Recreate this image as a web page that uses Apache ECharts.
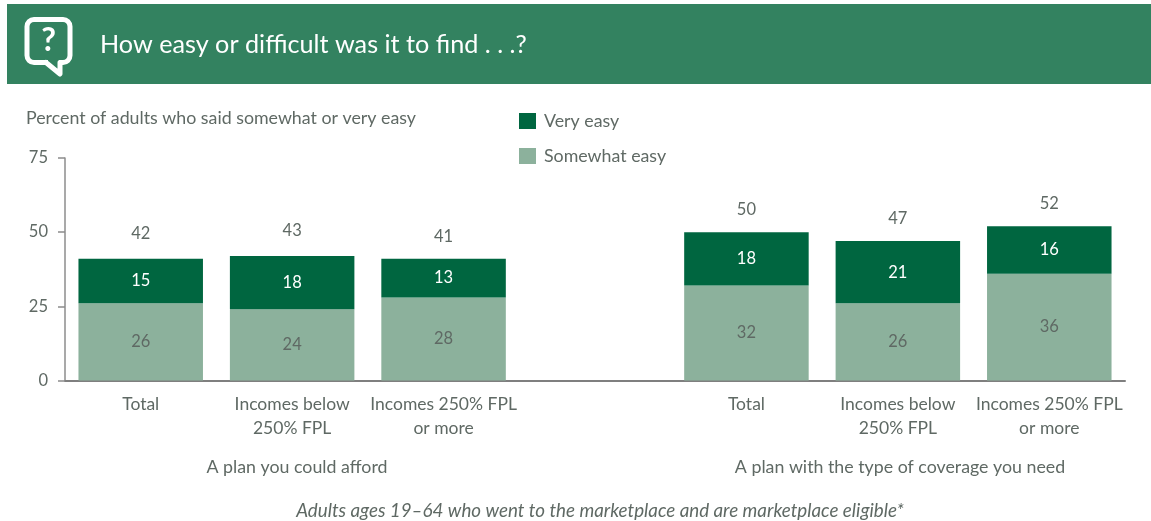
<!DOCTYPE html>
<html>
<head>
<meta charset="utf-8">
<style>
  html, body { margin: 0; padding: 0; background: #fff; }
  #chart { width: 1151px; height: 521px; }
</style>
<script src="https://cdn.jsdelivr.net/npm/echarts@6/dist/echarts.min.js"></script>
</head>
<body>
<div id="chart"></div>
<script>
// Survey answers by group; the empty middle slot separates the two question panels.
const categories = ['Total', 'Incomes below\n250% FPL', 'Incomes 250% FPL\nor more', '', 'Total', 'Incomes below\n250% FPL', 'Incomes 250% FPL\nor more'];
const somewhatEasy = [26, 24, 28, null, 32, 26, 36];
const veryEasy = [15, 18, 13, null, 18, 21, 16];
const totals = [42, 43, 41, null, 50, 47, 52];
const yTicks = [0, 25, 50, 75];

const FONT = 'Lato, "Open Sans", sans-serif';
const TEXT = '#5f6964';
const DARK = '#006640';
const LIGHT = '#8cb19c';
const BANNER = '#338260';

const chart = echarts.init(document.getElementById('chart'), null, { renderer: 'canvas' });

function note(text, x, y, align, extra) {
  return {
    type: 'text', x, y,
    style: Object.assign({ text, fill: TEXT, font: '17.8px ' + FONT, align, verticalAlign: 'middle' }, extra || {})
  };
}

chart.setOption({
  animation: false,
  backgroundColor: '#fff',
  textStyle: { fontFamily: FONT },
  grid: { left: 65, right: 26, top: 158, bottom: 140.5, containLabel: false },
  legend: {
    left: 514, top: 107, orient: 'vertical', itemWidth: 17, itemHeight: 16, itemGap: 17,
    data: ['Very easy', 'Somewhat easy'], selectedMode: false, icon: 'rect',
    textStyle: { color: TEXT, fontSize: 17.8, fontFamily: FONT, padding: [0, 0, 0, 3] }
  },
  xAxis: {
    type: 'category', data: categories,
    axisTick: { show: false },
    axisLine: { lineStyle: { color: '#7f7f7f', width: 2 } },
    axisLabel: { color: TEXT, fontSize: 17.5, fontFamily: FONT, lineHeight: 24, margin: 12, interval: 0 }
  },
  yAxis: {
    type: 'value', min: 0, max: 75, interval: 25,
    splitLine: { show: false },
    axisLine: { show: true, lineStyle: { color: '#8c8c8c', width: 1.5 } },
    axisTick: { show: true, length: 7, lineStyle: { color: '#8c8c8c', width: 1.5 } },
    axisLabel: {
      color: TEXT, fontSize: 16.5, fontFamily: FONT, margin: 17,
      formatter: v => yTicks.includes(v) ? String(v) : ''
    }
  },
  series: [
    {
      name: 'Somewhat easy', type: 'bar', stack: 'share', data: somewhatEasy, barWidth: 124.5,
      itemStyle: { color: LIGHT },
      label: { show: true, position: 'inside', color: TEXT, fontSize: 16.5, fontFamily: FONT }
    },
    {
      name: 'Very easy', type: 'bar', stack: 'share', data: veryEasy, barWidth: 124.5,
      itemStyle: { color: DARK },
      label: { show: true, position: 'inside', color: '#fff', fontSize: 16.5, fontFamily: FONT }
    },
    {
      name: 'Total', type: 'line', data: totals, connectNulls: false,
      showSymbol: true, symbolSize: 0, lineStyle: { opacity: 0 }, itemStyle: { opacity: 0 },
      label: { show: true, position: 'top', distance: 14, color: TEXT, fontSize: 16.5, fontFamily: FONT, opacity: 1 }
    }
  ],
  graphic: [
    { type: 'rect', shape: { x: 7, y: 4, width: 1144, height: 80 }, style: { fill: BANNER }, silent: true },
    // Speech-bubble question icon in the banner: rounded box, a gap in its lower edge, then the tail
    {
      type: 'rect', silent: true, shape: { x: 27, y: 19.5, width: 43, height: 43, r: 7 },
      style: { fill: 'none', stroke: '#fff', lineWidth: 5 }
    },
    { type: 'rect', silent: true, shape: { x: 48, y: 59, width: 11, height: 7 }, style: { fill: BANNER } },
    {
      type: 'polyline', silent: true, shape: { points: [[46, 62.5], [60, 74], [60, 62.5]] },
      style: { fill: 'none', stroke: '#fff', lineWidth: 5, lineJoin: 'round', lineCap: 'round' }
    },
    note('?', 48.5, 41, 'center', { fill: '#fff', font: 'bold 32px ' + FONT }),
    note('How easy or difficult was it to find . . .?', 100, 45, 'left', { fill: '#fff', font: '25.2px ' + FONT }),
    note('Percent of adults who said somewhat or very easy', 26, 118, 'left'),
    note('A plan you could afford', 297, 467, 'center'),
    note('A plan with the type of coverage you need', 900, 467, 'center'),
    note('Adults ages 19\u201364 who went to the marketplace and are marketplace eligible*', 600, 511, 'center', { font: 'italic 18.8px ' + FONT })
  ]
});
</script>
</body>
</html>
